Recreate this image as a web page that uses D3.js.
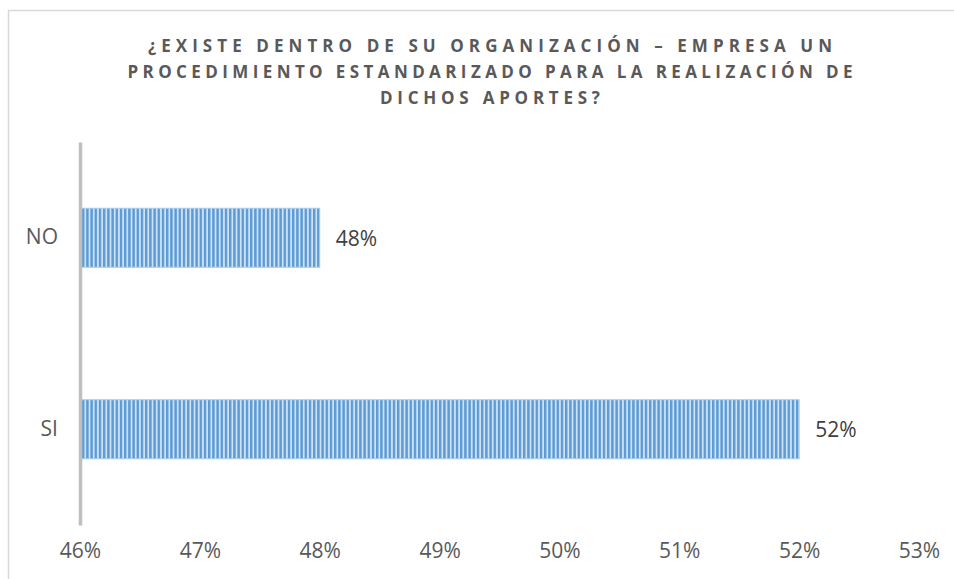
<!DOCTYPE html>
<html><head><meta charset="utf-8">
<script src="https://cdn.jsdelivr.net/npm/d3@7"></script>
<style>
html,body{margin:0;padding:0;background:#fff;}
svg{display:block;}
</style></head>
<body>
<svg id="chart" width="954" height="579"></svg>
<script>
const titleLines = ["¿EXISTE DENTRO DE SU ORGANIZACIÓN – EMPRESA UN", "PROCEDIMIENTO ESTANDARIZADO PARA LA REALIZACIÓN DE", "DICHOS APORTES?"];
const categories = ["NO", "SI"];
const values = [0.48, 0.52];
const tickValues = [0.46, 0.47, 0.48, 0.49, 0.50, 0.51, 0.52, 0.53];

const svg = d3.select("#chart");
const font = "'Open Sans', 'Liberation Sans', sans-serif";
const textColor = "#595959";

// outer frame
svg.append("rect").attr("x", 8.5).attr("y", 10.5).attr("width", 960).attr("height", 600)
  .attr("fill", "#fff").attr("stroke", "#d9d9d9").attr("stroke-width", 1.5);

// pattern
const defs = svg.append("defs");
const pat = defs.append("pattern").attr("id", "stripes").attr("patternUnits", "userSpaceOnUse")
  .attr("width", 4.2).attr("height", 10).attr("x", 82);
pat.append("rect").attr("width", 4.2).attr("height", 10).attr("fill", "#cfe1f3");
pat.append("rect").attr("x", 0).attr("width", 2.4).attr("height", 10).attr("fill", "#5b9bd5");

const x = d3.scaleLinear().domain([0.46, 0.53]).range([80, 919]);
const y = d3.scaleBand().domain(categories).range([142, 525]).paddingInner(0.692).paddingOuter(0.346);

// title
const titleWidths = [684, 725, 220];
const titleY = [47, 73, 99];
titleLines.forEach((t, i) => {
  const tx = svg.append("text").attr("x", 490).attr("y", titleY[i]).attr("text-anchor", "middle")
    .attr("dominant-baseline", "middle")
    .attr("font-family", font).attr("font-weight", "bold").attr("font-size", 17)
    .attr("fill", textColor).text(t);
  const w = tx.node().getComputedTextLength();
  const n = t.length;
  const ls = (titleWidths[i] - w) / (n - 1);
  tx.style("letter-spacing", ls + "px").attr("x", 490 + ls / 2);
});

// bars
svg.selectAll("rect.bar").data(categories).join("rect").attr("class", "bar")
  .attr("x", x(0.46) + 1.5).attr("y", d => y(d))
  .attr("width", (d, i) => x(values[i]) - x(0.46) - 1.5).attr("height", y.bandwidth())
  .attr("fill", "url(#stripes)").attr("stroke", "#a9cbea").attr("stroke-width", 1);

// y axis line
const yAxis = d3.axisLeft(y).tickSize(0).tickPadding(22);
const gy = svg.append("g").attr("transform", `translate(${x(0.46)},0)`).call(yAxis);
gy.select(".domain").attr("stroke", "#bfbfbf").attr("stroke-width", 3.5);
gy.selectAll("text").attr("font-family", font).attr("font-size", 21).attr("fill", textColor);

// x axis (labels only)
const xAxis = d3.axisBottom(x).tickValues(tickValues).tickSize(0).tickPadding(0)
  .tickFormat(d3.format(".0%"));
const gx = svg.append("g").attr("transform", `translate(0,543)`).call(xAxis);
gx.select(".domain").remove();
gx.selectAll("text").attr("font-family", font).attr("font-size", 21).attr("fill", textColor);

// data labels
svg.selectAll("text.lbl").data(categories).join("text").attr("class", "lbl")
  .attr("x", (d, i) => x(values[i]) + 16).attr("y", d => y(d) + y.bandwidth() / 2)
  .attr("dominant-baseline", "central")
  .attr("font-family", font).attr("font-size", 21).attr("fill", "#404040")
  .text((d, i) => d3.format(".0%")(values[i]));
</script>
</body></html>
